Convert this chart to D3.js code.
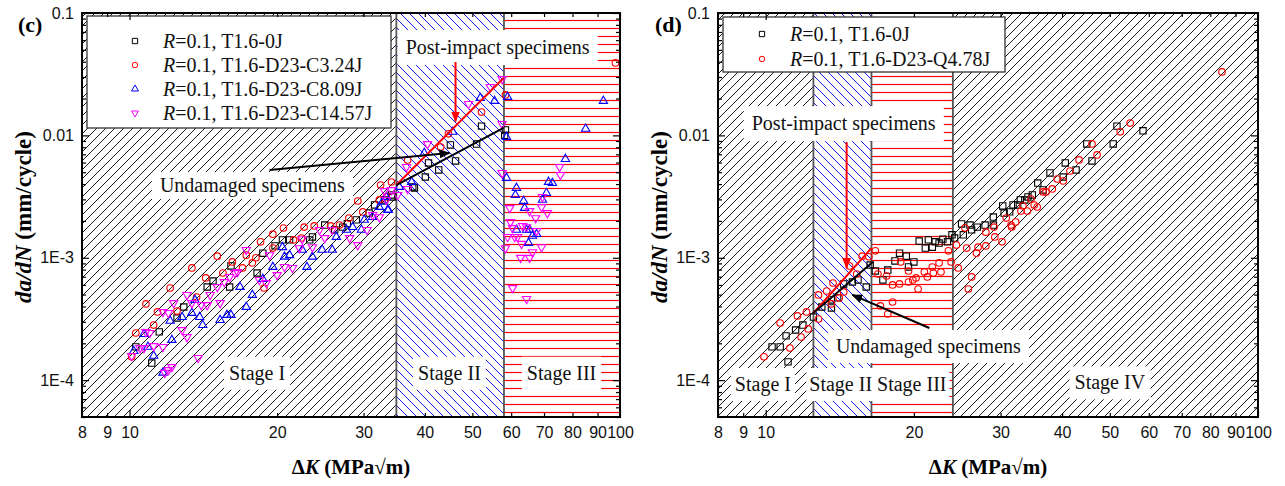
<!DOCTYPE html>
<html><head><meta charset="utf-8">
<script src="https://cdn.jsdelivr.net/npm/d3@7"></script>
<style>body{margin:0;background:#fff;} svg{display:block;}</style>
</head><body>
<svg id="chart" width="1285" height="486"></svg>
<script>
// ---------- tick values / labels ----------
const kTicks = [8, 9, 10, 20, 30, 40, 50, 60, 70, 80, 90, 100];
const kMajorTicks = [10, 100];
const rateTicks = [1e-4, 1e-3, 1e-2, 1e-1];
const rateTickLabels = ["1E-4", "1E-3", "0.01", "0.1"];
const kDomain = [8, 100];
const rateDomain = [5e-5, 0.1];

// ---------- panel (c) series: [ΔK, da/dN] ----------
const cNames = ["T1.6-0J", "T1.6-D23-C3.24J", "T1.6-D23-C8.09J", "T1.6-D23-C14.57J"];
const c_T16_0J = [[11.1,1.38e-4],[10.3,1.87e-4],[11.5,2.48e-4],[12.5,3.22e-4],[12.9,3.96e-4],[14.4,5.77e-4],[14.8,6.46e-4],[16.0,5.77e-4],[16.1,8.57e-4],[18.2,7.51e-4],[18.7,1.09e-3],[19.8,1.25e-3],[20.5,1.40e-3],[21.2,1.40e-3],[23.3,1.40e-3],[23.6,1.48e-3],[25.0,1.85e-3],[26.2,1.69e-3],[27.2,1.78e-3],[27.8,1.90e-3],[29.0,2.04e-3],[30.8,2.32e-3],[31.6,2.70e-3],[33.1,2.97e-3],[34.4,3.14e-3],[34.2,3.26e-3],[37.8,3.79e-3],[38.1,3.72e-3],[40.1,4.57e-3],[42.7,5.22e-3],[40.7,5.95e-3],[46.2,6.18e-3],[45.1,8.35e-3],[51.0,8.50e-3],[52.2,1.19e-2],[58.4,1.11e-2],[58.2,1.00e-2]];
const c_C324 = [[10.1,1.55e-4],[10.3,2.43e-4],[10.8,4.20e-4],[11.2,2.82e-4],[11.4,3.61e-4],[12.1,5.66e-4],[12.5,3.67e-4],[13.4,8.26e-4],[13.7,4.78e-4],[14.3,6.84e-4],[15.1,1.03e-3],[15.5,7.51e-4],[16.2,9.25e-4],[17.0,8.26e-4],[17.3,1.05e-3],[17.8,9.07e-4],[18.1,1.00e-3],[18.5,1.35e-3],[18.8,5.66e-4],[19.6,1.56e-3],[19.6,1.20e-3],[20.6,1.75e-3],[21.6,1.40e-3],[22.4,1.45e-3],[22.7,1.78e-3],[23.8,1.82e-3],[25.7,1.82e-3],[26.8,1.85e-3],[28.0,2.11e-3],[29.2,2.91e-3],[29.9,2.37e-3],[32.5,3.93e-3],[32.3,2.97e-3],[33.4,3.14e-3],[34.2,4.16e-3],[36.9,6.30e-3],[43.1,8.04e-3],[44.7,1.03e-2],[52.2,1.55e-2],[58.4,2.14e-2],[97.9,3.91e-2]];
const c_C809 = [[10.2,1.73e-4],[10.7,2.38e-4],[10.9,1.87e-4],[11.2,1.58e-4],[11.7,1.15e-4],[12.1,3.05e-4],[12.2,2.13e-4],[12.8,3.28e-4],[13.4,3.54e-4],[13.6,4.52e-4],[13.9,3.28e-4],[14.1,2.82e-4],[15.3,3.10e-4],[15.8,3.41e-4],[16.1,3.41e-4],[16.8,5.77e-4],[17.3,3.96e-4],[17.8,4.97e-4],[18.7,6.71e-4],[19.6,8.41e-4],[20.7,1.02e-3],[21.2,1.05e-3],[20.5,1.22e-3],[22.5,1.16e-3],[23.0,8.41e-4],[23.6,1.02e-3],[24.7,1.16e-3],[25.9,1.16e-3],[26.4,1.48e-3],[27.7,1.69e-3],[28.5,1.78e-3],[29.7,1.69e-3],[30.1,2.04e-3],[31.3,2.15e-3],[32.3,2.60e-3],[33.6,2.46e-3],[33.4,3.14e-3],[32.8,2.86e-3],[33.7,2.46e-3],[35.5,3.79e-3],[37.6,4.16e-3],[39.9,7.18e-3],[45.6,1.07e-2],[51.9,2.02e-2],[55.5,1.91e-2],[59.0,2.06e-2],[58.7,9.70e-3],[92.5,1.91e-2],[85.1,1.13e-2],[77.4,6.41e-3],[58.7,4.49e-3],[61.5,3.72e-3],[61.2,3.26e-3],[63.6,2.91e-3],[63.9,2.55e-3],[61.5,1.69e-3],[64.5,1.69e-3],[65.4,1.69e-3],[66.3,1.51e-3],[67.6,1.56e-3],[65.1,1.32e-3],[69.5,2.97e-3],[70.8,3.38e-3],[71.5,4.16e-3],[72.8,4.08e-3]];
const c_C1457 = [[10.1,1.58e-4],[10.5,1.83e-4],[10.7,1.83e-4],[11.0,2.43e-4],[11.7,1.87e-4],[11.7,3.61e-4],[12.0,3.54e-4],[12.3,4.27e-4],[12.8,2.57e-4],[13.1,2.25e-4],[13.1,4.97e-4],[13.4,4.27e-4],[13.8,1.52e-4],[14.0,4.11e-4],[14.4,4.11e-4],[14.6,4.97e-4],[15.1,5.77e-4],[15.3,4.27e-4],[15.6,6.34e-4],[16.0,6.97e-4],[16.4,7.51e-4],[16.6,7.66e-4],[17.3,1.16e-3],[18.4,6.59e-4],[19.0,6.22e-4],[19.3,1.05e-3],[20.0,7.23e-4],[20.7,8.41e-4],[21.5,8.26e-4],[22.2,1.20e-3],[22.5,1.42e-3],[23.6,1.22e-3],[24.4,1.69e-3],[25.0,1.45e-3],[25.9,1.69e-3],[28.1,1.45e-3],[29.2,1.27e-3],[30.5,1.69e-3],[31.3,2.24e-3],[32.3,2.15e-3],[33.4,2.97e-3],[34.2,3.58e-3],[12.2,1.28e-4],[12.0,1.21e-4],[11.8,1.15e-4],[10.8,2.48e-4],[11.2,1.90e-4],[33.1,3.51e-3],[36.7,5.52e-3],[36.9,3.65e-3],[35.2,3.26e-3],[40.5,8.50e-3],[49.1,1.81e-2],[54.4,2.49e-2],[57.5,2.89e-2],[57.5,1.24e-2],[57.5,4.93e-3],[59.6,2.55e-3],[59.8,1.96e-3],[60.4,1.75e-3],[59.0,1.48e-3],[58.4,1.20e-3],[61.0,1.48e-3],[61.8,1.48e-3],[63.0,1.30e-3],[62.7,1.00e-3],[65.4,1.00e-3],[66.3,1.11e-3],[69.2,1.22e-3],[67.6,1.66e-3],[67.3,2.11e-3],[69.2,2.60e-3],[71.1,2.32e-3],[69.5,3.14e-3],[75.6,4.75e-3],[75.3,5.52e-3],[60.4,5.66e-4],[64.5,4.61e-4],[65.4,2.41e-3],[64.5,1.78e-3],[63.3,1.82e-3]];

// ---------- panel (d) series ----------
const dNames = ["T1.6-0J", "T1.6-D23-Q4.78J"];
const d_T16_0J = [[11.1,1.41e-4],[10.3,1.87e-4],[10.7,1.87e-4],[11.0,2.30e-4],[11.5,2.57e-4],[11.9,2.82e-4],[12.5,3.28e-4],[13.0,3.96e-4],[13.6,3.89e-4],[13.6,4.52e-4],[14.0,4.70e-4],[14.4,6.11e-4],[15.0,6.34e-4],[15.4,6.59e-4],[16.0,5.77e-4],[16.3,8.73e-4],[16.7,7.80e-4],[17.3,6.59e-4],[17.7,7.94e-4],[18.3,9.42e-4],[18.7,1.09e-3],[19.3,1.03e-3],[19.5,8.41e-4],[20.0,9.25e-4],[20.5,1.37e-3],[21.1,1.20e-3],[21.4,1.40e-3],[21.8,1.22e-3],[22.1,1.35e-3],[22.5,1.32e-3],[22.9,1.42e-3],[23.4,1.35e-3],[23.9,1.54e-3],[24.2,1.45e-3],[25.0,1.89e-3],[25.2,1.54e-3],[26.0,1.85e-3],[26.2,1.69e-3],[26.9,1.78e-3],[27.9,1.85e-3],[29.0,2.15e-3],[29.0,1.85e-3],[30.3,2.65e-3],[30.5,2.32e-3],[31.3,2.37e-3],[31.8,2.70e-3],[32.5,2.70e-3],[32.9,2.97e-3],[33.6,2.97e-3],[34.1,3.14e-3],[34.8,3.26e-3],[35.7,4.08e-3],[36.6,3.58e-3],[37.8,4.93e-3],[40.2,4.57e-3],[40.6,5.95e-3],[42.7,5.22e-3],[44.9,8.51e-3],[46.0,6.18e-3],[50.8,8.51e-3],[51.7,1.19e-2],[58.4,1.09e-2]];
const d_Q478 = [[9.92,1.55e-4],[11.2,1.83e-4],[10.7,2.93e-4],[11.6,3.35e-4],[11.8,2.25e-4],[12.1,3.61e-4],[12.2,2.62e-4],[12.8,3.16e-4],[12.8,4.97e-4],[13.3,5.35e-4],[13.7,6.22e-4],[13.6,4.20e-4],[14.1,4.70e-4],[14.4,5.26e-4],[14.8,8.57e-4],[15.3,7.37e-4],[15.7,1.03e-3],[16.2,1.02e-3],[16.7,1.14e-3],[16.9,7.37e-4],[17.1,4.04e-4],[17.6,7.10e-4],[17.7,3.47e-4],[18.1,4.35e-4],[18.1,6.00e-4],[18.7,6.11e-4],[18.8,9.25e-4],[19.5,7.80e-4],[19.5,6.34e-4],[19.9,6.59e-4],[20.2,6.84e-4],[20.4,5.56e-4],[21.0,7.66e-4],[21.3,6.97e-4],[21.8,8.41e-4],[21.9,7.51e-4],[22.5,9.07e-4],[22.7,7.66e-4],[23.5,1.14e-3],[23.8,9.25e-4],[24.4,1.27e-3],[24.6,8.26e-4],[25.4,1.75e-3],[25.6,1.20e-3],[25.8,5.56e-4],[26.2,6.97e-4],[26.8,1.09e-3],[27.0,1.22e-3],[28.0,1.25e-3],[28.0,1.62e-3],[29.1,1.78e-3],[29.2,1.48e-3],[30.2,1.35e-3],[30.8,2.11e-3],[31.5,1.85e-3],[31.6,1.78e-3],[32.2,1.96e-3],[33.0,2.41e-3],[33.3,2.65e-3],[34.0,2.41e-3],[34.6,3.02e-3],[35.1,2.70e-3],[35.6,2.60e-3],[36.6,3.45e-3],[37.1,3.45e-3],[38.2,3.65e-3],[39.1,4.40e-3],[40.2,4.24e-3],[41.5,5.12e-3],[43.3,6.30e-3],[46.0,8.51e-3],[47.1,6.92e-3],[52.5,1.07e-2],[55.0,1.26e-2],[84.5,3.30e-2]];

// ---------- stage ranges (ΔK) ----------
const cStageBounds = [8, 35, 58, 100];
const cStageNames = ["Stage I", "Stage II", "Stage III"];
const dStageBounds = [8, 12.5, 16.4, 24, 100];
const dStageNames = ["Stage I", "Stage II", "Stage III", "Stage IV"];

// ---------- layout / style (not data) ----------
const hatchOf = {"Stage I":"hatchI","Stage II":"hatchII","Stage III":"hatchIII","Stage IV":"hatchI"};
const markerStyles = [
  {type:"square", color:"#000000"},
  {type:"circle", color:"#ff0000"},
  {type:"triangle", color:"#0000ff"},
  {type:"down", color:"#ff00ff"}
];
const SERIF = "'Liberation Serif','Times New Roman',serif";
const SANS = "'Liberation Sans',Arial,sans-serif";

const svg = d3.select("#chart");
const defs = svg.append("defs");
function pat(id, w, h, d, color, sw) {
  const p = defs.append("pattern").attr("id", id).attr("patternUnits", "userSpaceOnUse")
    .attr("width", w).attr("height", h);
  p.append("rect").attr("width", w).attr("height", h).attr("fill", "#fff");
  p.append("path").attr("d", d).attr("stroke", color).attr("stroke-width", sw).attr("fill", "none");
}
pat("hatchI", 9, 9, "M-2,2 L2,-2 M0,9 L9,0 M7,11 L11,7", "#000", 0.9);
pat("hatchII", 9, 9, "M-2,7 L2,11 M0,0 L9,9 M7,-2 L11,2", "#0000ff", 0.9);
pat("hatchIII", 10, 8, "M0,4.5 L10,4.5", "#ff0000", 1.2);
function arrowMarker(id, color) {
  defs.append("marker").attr("id", id).attr("viewBox", "0 0 10 8").attr("refX", 9).attr("refY", 4)
    .attr("markerUnits", "userSpaceOnUse").attr("markerWidth", 11).attr("markerHeight", 9)
    .attr("orient", "auto").append("path").attr("d", "M0,0 L10,4 L0,8 Z").attr("fill", color);
}
arrowMarker("arrRed", "#ff0000");
arrowMarker("arrBlack", "#000000");

function symbolPath(type, scale) {
  const s = scale || 1;
  if (type === "square") return d3.symbol(d3.symbolSquare, 40 * s)();
  if (type === "circle") return d3.symbol(d3.symbolCircle, 34 * s)();
  return d3.symbol(d3.symbolTriangle, 30 * s)();
}

function labelBox(g, x, y, text, padX, padY) {
  const grp = g.append("g");
  const t = grp.append("text").attr("x", x).attr("y", y).attr("text-anchor", "middle")
    .attr("dominant-baseline", "central").attr("font-family", SERIF).attr("font-size", 20)
    .attr("fill", "#111").text(text);
  const bb = t.node().getBBox();
  grp.insert("rect", () => t.node()).attr("x", bb.x - padX).attr("y", bb.y - padY)
    .attr("width", bb.width + 2 * padX).attr("height", bb.height + 2 * padY).attr("fill", "#fff");
}

function drawPanel(cfg) {
  const g = svg.append("g");
  const x = d3.scaleLog().domain(kDomain).range([cfg.left, cfg.right]);
  const y = d3.scaleLog().domain(rateDomain).range([cfg.bottom, cfg.top]);

  // stages
  const bounds = cfg.stageBounds;
  for (let i = 0; i < bounds.length - 1; i++) {
    g.append("rect").attr("x", x(bounds[i])).attr("y", cfg.top)
      .attr("width", x(bounds[i + 1]) - x(bounds[i])).attr("height", cfg.bottom - cfg.top)
      .attr("fill", "url(#" + hatchOf[cfg.stageNames[i]] + ")");
  }
  for (let i = 1; i < bounds.length - 1; i++) {
    g.append("line").attr("x1", x(bounds[i])).attr("x2", x(bounds[i]))
      .attr("y1", cfg.top).attr("y2", cfg.bottom).attr("stroke", "#555").attr("stroke-width", 1.8);
  }
  // text boxes
  cfg.texts.forEach(t => labelBox(g, x(t.k), y(t.r), t.text, t.px, t.py));

  // data points
  cfg.series.forEach((s, i) => {
    const st = markerStyles[s.style];
    g.append("g").selectAll("path").data(s.data).join("path")
      .attr("d", symbolPath(st.type))
      .attr("transform", d => `translate(${x(d[0])},${y(d[1])})` + (st.type === "down" ? " rotate(180)" : ""))
      .attr("fill", "none").attr("stroke", st.color).attr("stroke-width", 1.1);
  });

  // lines & arrows
  cfg.lines.forEach(l => {
    const ln = g.append("line").attr("x1", x(l.from[0])).attr("y1", y(l.from[1]))
      .attr("x2", x(l.to[0])).attr("y2", y(l.to[1])).attr("stroke", l.color).attr("stroke-width", l.w);
    if (l.arrow) ln.attr("marker-end", "url(#" + l.arrow + ")");
  });

  // legend
  const L = cfg.legend;
  const lg = g.append("g");
  lg.append("rect").attr("x", cfg.left + L.x).attr("y", cfg.top + L.y).attr("width", L.w).attr("height", L.h)
    .attr("fill", "#fff").attr("stroke", "#333").attr("stroke-width", 1.3);
  cfg.series.forEach((s, i) => {
    const st = markerStyles[s.style];
    const yy = cfg.top + L.row0 + i * L.dy;
    lg.append("path").attr("d", symbolPath(st.type, 0.7))
      .attr("transform", `translate(${cfg.left + L.sx},${yy})` + (st.type === "down" ? " rotate(180)" : ""))
      .attr("fill", "none").attr("stroke", st.color).attr("stroke-width", 1);
    const t = lg.append("text").attr("x", cfg.left + L.tx).attr("y", yy).attr("dominant-baseline", "central")
      .attr("font-family", SERIF).attr("font-size", 20).attr("fill", "#111");
    t.append("tspan").attr("font-style", "italic").text("R");
    t.append("tspan").text("=0.1, " + s.name);
  });

  // axes (ticks inward)
  const minorY = [];
  [1e-5, 1e-4, 1e-3, 1e-2].forEach(dec => { for (let m = 2; m <= 9; m++) { const v = m * dec; if (v >= rateDomain[0] && v < rateDomain[1]) minorY.push(v); } });
  const kMinor = kTicks.filter(k => !kMajorTicks.includes(k));
  const axG = g.append("g").attr("font-family", SANS);
  const styleAxis = sel => { sel.select(".domain").remove(); sel.selectAll("line").attr("stroke", "#000").attr("stroke-width", 1.2); sel.selectAll("text").attr("font-family", SANS).attr("font-size", 16).attr("fill", "#111"); };
  axG.append("g").attr("transform", `translate(0,${cfg.bottom})`)
    .call(d3.axisBottom(x).tickValues(kTicks).tickFormat(d3.format("d")).tickSize(0).tickPadding(10)).call(styleAxis);
  axG.append("g").attr("transform", `translate(0,${cfg.bottom})`)
    .call(d3.axisBottom(x).tickValues(kMinor).tickFormat("").tickSize(-4)).call(styleAxis);
  axG.append("g").attr("transform", `translate(0,${cfg.bottom})`)
    .call(d3.axisBottom(x).tickValues(kMajorTicks).tickFormat("").tickSize(-7)).call(styleAxis);
  axG.append("g").attr("transform", `translate(0,${cfg.top})`)
    .call(d3.axisTop(x).tickValues(kMinor).tickFormat("").tickSize(-4)).call(styleAxis);
  axG.append("g").attr("transform", `translate(0,${cfg.top})`)
    .call(d3.axisTop(x).tickValues(kMajorTicks).tickFormat("").tickSize(-7)).call(styleAxis);
  axG.append("g").attr("transform", `translate(${cfg.left},0)`)
    .call(d3.axisLeft(y).tickValues(rateTicks).tickFormat((d, i) => rateTickLabels[i]).tickSize(-7).tickPadding(8)).call(styleAxis);
  axG.append("g").attr("transform", `translate(${cfg.left},0)`)
    .call(d3.axisLeft(y).tickValues(minorY).tickFormat("").tickSize(-4)).call(styleAxis);
  axG.append("g").attr("transform", `translate(${cfg.right},0)`)
    .call(d3.axisRight(y).tickValues(rateTicks).tickFormat("").tickSize(-7)).call(styleAxis);
  axG.append("g").attr("transform", `translate(${cfg.right},0)`)
    .call(d3.axisRight(y).tickValues(minorY).tickFormat("").tickSize(-4)).call(styleAxis);

  g.append("rect").attr("x", cfg.left).attr("y", cfg.top).attr("width", cfg.right - cfg.left)
    .attr("height", cfg.bottom - cfg.top).attr("fill", "none").attr("stroke", "#000").attr("stroke-width", 2);

  // titles
  const xt = g.append("text").attr("x", (cfg.left + cfg.right) / 2 + cfg.xTitleDx).attr("y", 474)
    .attr("text-anchor", "middle").attr("font-family", SERIF).attr("font-size", 21).attr("font-weight", "bold");
  xt.append("tspan").text("Δ");
  xt.append("tspan").attr("font-style", "italic").text("K");
  xt.append("tspan").text(" (MPa√m)");
  const yt = g.append("text").attr("transform", `translate(${cfg.yTitleX},${cfg.yTitleY}) rotate(-90)`)
    .attr("text-anchor", "middle").attr("font-family", SERIF).attr("font-size", 23).attr("font-weight", "bold");
  yt.append("tspan").attr("font-style", "italic").text("da/dN");
  yt.append("tspan").text(" (mm/cycle)");
  g.append("text").attr("x", cfg.tagX).attr("y", 32).attr("font-family", SERIF).attr("font-size", 22)
    .attr("font-weight", "bold").text(cfg.tag);
}

drawPanel({
  left: 82, right: 620, top: 13, bottom: 417,
  stageBounds: cStageBounds, stageNames: cStageNames,
  series: [
    {name: cNames[0], data: c_T16_0J, style: 0},
    {name: cNames[1], data: c_C324, style: 1},
    {name: cNames[2], data: c_C809, style: 2},
    {name: cNames[3], data: c_C1457, style: 3}
  ],
  texts: [
    {text: "Post-impact specimens", k: 56.3, r: 5.27e-2, px: 8, py: 6},
    {text: "Undamaged specimens", k: 17.8, r: 3.93e-3, px: 8, py: 2},
    {text: "Stage I", k: 18.2, r: 1.15e-4, px: 5, py: 5},
    {text: "Stage II", k: 44.9, r: 1.15e-4, px: 5, py: 5},
    {text: "Stage III", k: 76.0, r: 1.15e-4, px: 5, py: 5}
  ],
  lines: [
    {from: [35, 3.93e-3], to: [57.9, 2.94e-2], color: "#ff0000", w: 2},
    {from: [35, 3.93e-3], to: [57.9, 1.15e-2], color: "#000", w: 2},
    {from: [46.2, 3.98e-2], to: [46.2, 1.30e-2], color: "#ff0000", w: 2, arrow: "arrRed"},
    {from: [19.3, 5.22e-3], to: [44.9, 7.18e-3], color: "#000", w: 2, arrow: "arrBlack"}
  ],
  legend: {x: 5, y: 3, w: 304, h: 112, sx: 53, tx: 81, row0: 28, dy: 24},
  xTitleDx: 0, yTitleX: 31, yTitleY: 217, tag: "(c)", tagX: 18
});

drawPanel({
  left: 718, right: 1258, top: 13, bottom: 417,
  stageBounds: dStageBounds, stageNames: dStageNames,
  series: [
    {name: dNames[0], data: d_T16_0J, style: 0},
    {name: dNames[1], data: d_Q478, style: 1}
  ],
  texts: [
    {text: "Post-impact specimens", k: 14.4, r: 1.26e-2, px: 8, py: 6},
    {text: "Undamaged specimens", k: 21.4, r: 1.90e-4, px: 8, py: 5},
    {text: "Stage I", k: 9.87, r: 9.3e-5, px: 4, py: 5},
    {text: "Stage II", k: 14.2, r: 9.3e-5, px: 3, py: 5},
    {text: "Stage III", k: 19.8, r: 9.3e-5, px: 3, py: 5},
    {text: "Stage IV", k: 50.0, r: 9.6e-5, px: 5, py: 5}
  ],
  lines: [
    {from: [12.5, 3.54e-4], to: [16.4, 1.20e-3], color: "#ff0000", w: 2},
    {from: [12.5, 3.54e-4], to: [16.5, 9.25e-4], color: "#000", w: 2},
    {from: [14.6, 8.83e-3], to: [14.6, 8.26e-4], color: "#ff0000", w: 2, arrow: "arrRed"},
    {from: [21.5, 2.67e-4], to: [15.0, 4.97e-4], color: "#000", w: 2, arrow: "arrBlack"}
  ],
  legend: {x: 5, y: 4, w: 282, h: 55, sx: 44, tx: 72, row0: 21, dy: 25},
  xTitleDx: 0, yTitleX: 667, yTitleY: 217, tag: "(d)", tagX: 655
});
</script>
</body></html>
